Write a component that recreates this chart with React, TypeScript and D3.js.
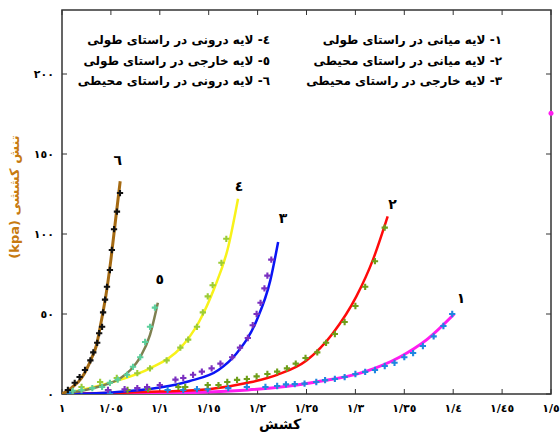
import * as d3 from "d3";

// x ticks (stretch) and y ticks (stress, kpa)
const xTicks = [1, 1.05, 1.1, 1.15, 1.2, 1.25, 1.3, 1.35, 1.4, 1.45, 1.5];
const xTickLabels = ["١", "١/٠٥", "١/١", "١/١٥", "١/٢", "١/٢٥", "١/٣", "١/٣٥", "١/٤", "١/٤٥", "١/٥"];
const yTicks = [0, 50, 100, 150, 200];
const yTickLabels = ["٠", "٥٠", "١٠٠", "١٥٠", "٢٠٠"];

const legendRight = [
  "١- لایه میانی در راستای طولی",
  "٢- لایه میانی در راستای محیطی",
  "٣- لایه خارجی در راستای محیطی",
];
const legendLeft = [
  "٤- لایه درونی در راستای طولی",
  "٥- لایه خارجی در راستای طولی",
  "٦- لایه درونی در راستای محیطی",
];

// fitted curves [stretch, stress]
const fit1: [number, number][] = [[1, 0], [1.1, 0.5], [1.15, 1.2], [1.19, 2.5], [1.26, 7.5], [1.31, 14], [1.345, 23], [1.373, 34], [1.401, 50]];
const fit2: [number, number][] = [[1, 0], [1.1, 1.5], [1.15, 3], [1.19, 7], [1.22, 12], [1.25, 21], [1.277, 38], [1.301, 61], [1.318, 84], [1.333, 111]];
const fit3: [number, number][] = [[1, 0], [1.05, 1], [1.1, 4], [1.13, 8], [1.16, 15], [1.178, 25], [1.199, 46], [1.213, 71], [1.221, 95]];
const fit4: [number, number][] = [[1, 0], [1.03, 4], [1.06, 9], [1.09, 16], [1.12, 28], [1.14, 45], [1.155, 65], [1.17, 92], [1.18, 122]];
const fit5: [number, number][] = [[1, 0], [1.02, 2], [1.04, 5], [1.06, 10], [1.07, 15], [1.08, 23], [1.09, 37], [1.098, 57]];
const fit6: [number, number][] = [[1, 0], [1.01, 4], [1.02, 10], [1.03, 22], [1.035, 30], [1.04, 45], [1.045, 62], [1.05, 84], [1.055, 110], [1.0595, 133]];

// measured points
const pts1: [number, number][] = [[1.008, 0], [1.049, 0], [1.108, 2.5], [1.124, 2.5], [1.138, 3], [1.149, 3], [1.17, 3.7], [1.189, 4.4], [1.208, 4.4], [1.22, 5], [1.229, 6], [1.238, 6.2], [1.248, 6.5], [1.26, 7.5], [1.269, 8.7], [1.279, 9.4], [1.289, 10.6], [1.3, 12.5], [1.31, 13.8], [1.32, 15], [1.33, 17.5], [1.34, 19.5], [1.35, 23], [1.359, 25.6], [1.369, 30], [1.38, 36], [1.39, 42.5], [1.399, 50]];
const pts2: [number, number][] = [[1.067, 2.5], [1.088, 3], [1.119, 4.4], [1.126, 4.4], [1.149, 5.6], [1.16, 5.6], [1.169, 7.5], [1.179, 8.8], [1.189, 9.4], [1.199, 11], [1.21, 12.5], [1.22, 14], [1.23, 16], [1.239, 19], [1.249, 22.5], [1.261, 26], [1.27, 32], [1.279, 37.5], [1.289, 45], [1.3, 55], [1.31, 67], [1.32, 83], [1.33, 104]];
const pts3: [number, number][] = [[1.047, 2.5], [1.064, 3], [1.077, 3.7], [1.087, 4.4], [1.1, 5.6], [1.116, 9], [1.124, 10], [1.134, 12], [1.143, 14], [1.153, 16], [1.162, 19], [1.174, 23], [1.182, 29], [1.19, 35], [1.195, 43], [1.199, 50], [1.203, 57], [1.207, 66], [1.21, 74], [1.214, 84]];
const pts4: [number, number][] = [[1.02, 4.4], [1.039, 7.5], [1.056, 10], [1.077, 13], [1.09, 16], [1.107, 21], [1.121, 29], [1.129, 34], [1.138, 42], [1.144, 51], [1.149, 61], [1.154, 68], [1.163, 82], [1.168, 97]];
const pts5: [number, number][] = [[1.011, 2], [1.02, 2.5], [1.031, 3.7], [1.041, 4.4], [1.049, 7], [1.057, 9], [1.0665, 12], [1.0726, 17], [1.08, 23], [1.085, 32.5], [1.09, 42], [1.095, 54]];
const pts6: [number, number][] = [[1.006, 2.5], [1.013, 7], [1.018, 10.6], [1.0235, 15], [1.029, 21], [1.032, 26], [1.036, 32], [1.038, 38], [1.041, 42], [1.042, 51], [1.044, 59], [1.046, 67], [1.049, 77.5], [1.051, 90], [1.0532, 103], [1.0562, 114], [1.0593, 125.6]];

const curveNames = ["١", "٢", "٣", "٤", "٥", "٦"];
const curveNamePos: [number, number][] = [[1.408, 60], [1.338, 119], [1.226, 110], [1.181, 130], [1.1, 72], [1.057, 146]];
const strayPoint: [number, number] = [1.5, 175.5];

const series = [
  { fit: fit1, pts: pts1, line: "#ff1cf0", mark: "#1f86e0", lw: 3 },
  { fit: fit2, pts: pts2, line: "#ff0a0a", mark: "#6e9e1a", lw: 2.5 },
  { fit: fit3, pts: pts3, line: "#0a14f5", mark: "#7a2fc0", lw: 2.5 },
  { fit: fit4, pts: pts4, line: "#f8f21a", mark: "#9ccc36", lw: 2.5 },
  { fit: fit5, pts: pts5, line: "#7e8050", mark: "#5ccf9c", lw: 2.5 },
  { fit: fit6, pts: pts6, line: "#a56a12", mark: "#111111", lw: 3 },
];

const W = 560, H = 434;
const m = { left: 62, right: 551, top: 10, bottom: 394 };
const FONT = "'DejaVu Sans', sans-serif";

export default function App() {
  const x = d3.scaleLinear().domain([1, 1.5]).range([m.left, m.right]);
  const y = d3.scaleLinear().domain([0, 50]).range([m.bottom, m.bottom - 80]);
  const line = d3.line<[number, number]>()
    .x((d) => x(d[0]))
    .y((d) => y(d[1]))
    .curve(d3.curveMonotoneX);
  const cross = d3.symbol().type(d3.symbolCross).size(22)();

  return (
    <svg
      width={W}
      height={H}
      style={{ position: "absolute", left: 0, top: 0, background: "#fff" }}
    >
      <defs>
        <clipPath id="plot">
          <rect x={m.left} y={m.top} width={m.right - m.left} height={m.bottom - m.top} />
        </clipPath>
      </defs>

      {/* frame + inward ticks */}
      <rect x={m.left} y={m.top} width={m.right - m.left} height={m.bottom - m.top}
        fill="none" stroke="#333" strokeWidth={1.5} />
      {xTicks.map((t, i) => (
        <g key={"xt" + i}>
          <line x1={x(t)} x2={x(t)} y1={m.bottom} y2={m.bottom - 5} stroke="#333" />
          <line x1={x(t)} x2={x(t)} y1={m.top} y2={m.top + 5} stroke="#333" />
          <text x={x(t)} y={412} textAnchor="middle" fontFamily={FONT} fontWeight="bold" fontSize={11}>
            {xTickLabels[i]}
          </text>
        </g>
      ))}
      {yTicks.map((t, i) => (
        <g key={"yt" + i}>
          <line x1={m.left} x2={m.left + 5} y1={y(t)} y2={y(t)} stroke="#333" />
          <line x1={m.right} x2={m.right - 5} y1={y(t)} y2={y(t)} stroke="#333" />
          <text x={54} y={y(t) + 4} textAnchor="end" fontFamily={FONT} fontWeight="bold" fontSize={11}>
            {yTickLabels[i]}
          </text>
        </g>
      ))}

      {/* axis titles */}
      <text x={280} y={429} textAnchor="middle" fontFamily={FONT} fontWeight="bold" fontSize={14}>کشش</text>
      <text transform="translate(19,197) rotate(-90)" textAnchor="middle" fontFamily={FONT}
        fontWeight="bold" fontSize={13} fill="#c77a10">(kpa) تنش کششی</text>

      {/* curves */}
      <g clipPath="url(#plot)">
        {series.map((s, i) => (
          <path key={"l" + i} d={line(s.fit) || ""} fill="none" stroke={s.line} strokeWidth={s.lw} />
        ))}
        {series.map((s, i) => (
          <g key={"p" + i} fill={s.mark}>
            {s.pts.map((p, j) => (
              <path key={j} d={cross || ""} transform={`translate(${x(p[0])},${y(p[1])})`} />
            ))}
          </g>
        ))}
      </g>
      <circle cx={x(strayPoint[0])} cy={y(strayPoint[1])} r={2.5} fill="#ff1cf0" />

      {/* curve numbers */}
      {curveNames.map((n, i) => (
        <text key={"cn" + i} x={x(curveNamePos[i][0])} y={y(curveNamePos[i][1])} dy="0.35em"
          textAnchor="middle" fontFamily={FONT} fontWeight="bold" fontSize={14}>{n}</text>
      ))}

      {/* legend */}
      {legendRight.map((t, i) => (
        <text key={"lr" + i} x={502} y={44 + i * 20.5} textAnchor="end" fontFamily={FONT}
          fontWeight="bold" fontSize={12}>{t}</text>
      ))}
      {legendLeft.map((t, i) => (
        <text key={"ll" + i} x={270} y={44 + i * 20.5} textAnchor="end" fontFamily={FONT}
          fontWeight="bold" fontSize={12}>{t}</text>
      ))}
    </svg>
  );
}
